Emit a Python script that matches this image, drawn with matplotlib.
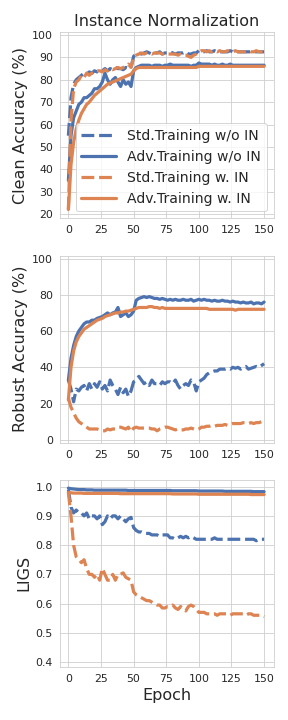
import matplotlib
matplotlib.use('Agg')
import matplotlib.pyplot as plt
import numpy as np
import seaborn as sns

sns.set_style('whitegrid')

epochs = np.arange(0, 151, 2)
labels = ['Std.Training w/o IN', 'Adv.Training w/o IN', 'Std.Training w. IN', 'Adv.Training w. IN']

# clean accuracy
clean_std_noin = [55, 72, 78, 80, 81, 82, 83, 82.5, 83.5, 83,
                  84, 83.5, 84.5, 84, 85, 84, 85, 84.5, 85.5, 85,
                  85, 84.5, 85.5, 85, 85.5, 90.5, 91.5, 92, 91.5, 92,
                  92.5, 92, 91.5, 92, 92, 92.5, 91.5, 92, 92, 92.5,
                  92, 91.5, 92, 92, 92, 92.5, 91.5, 91.5, 92, 92,
                  93, 92.5, 92.5, 93, 92.5, 92.5, 93, 92.5, 92.5, 92.5,
                  92.5, 92.5, 93, 92.5, 92.5, 92.5, 92.5, 92.5, 92.5, 92.5,
                  92.5, 92.5, 92.5, 92.5, 92.5, 92.5]
clean_adv_noin = [35, 55, 63, 66, 69, 70, 72, 72, 73, 74,
                  76, 76, 77, 79, 83, 80, 78, 80, 81, 79,
                  77, 80, 78, 79, 77, 84, 85.5, 86, 86.5, 86.5,
                  86.5, 86.5, 86, 86.5, 86.5, 86.5, 86, 86.5, 86.5, 87,
                  86.5, 86.5, 86.5, 86.5, 86.5, 86.5, 86.5, 86, 86.5, 86.5,
                  87.5, 87, 87, 87, 87, 86.5, 87, 86.5, 86.5, 87,
                  86.5, 86.5, 87, 86.5, 86.5, 86.5, 86.5, 86.5, 86.5, 86.5,
                  86.5, 86.5, 86.5, 86.5, 86.5, 86.5]
clean_std_in = [22, 62, 76, 79, 80, 82, 81, 83, 82, 83,
                83, 84, 84, 83.5, 84.5, 84, 85, 84.5, 85, 85.5,
                85, 85.5, 86, 87, 85.5, 90, 91, 91.5, 92, 91.5,
                92, 92, 91.5, 92, 92, 92, 91.5, 92, 91.5, 91.5,
                91.5, 91.5, 91, 91.5, 91, 91, 90.5, 90, 91, 91.5,
                92.5, 93, 93, 92.5, 93, 92.5, 93, 92.5, 93, 92.5,
                92.5, 93, 92.5, 92.5, 93, 92.5, 92.5, 92.5, 92.5, 93,
                92.5, 92.5, 93, 92.5, 92.5, 92.5]
clean_adv_in = [22, 42, 52, 58, 62, 65, 67, 69, 70, 71.5,
                73, 74, 75, 76, 77, 78, 78.5, 79, 79.5, 80,
                80.5, 81, 81.5, 82, 82.5, 84, 85, 85.5, 85.5, 85.5,
                85.5, 85.5, 85.5, 85.5, 85.5, 85.5, 85.5, 85.5, 85.5, 85.5,
                85.5, 85.5, 85.5, 85.5, 85.5, 85.5, 85.5, 85.5, 85.5, 85.5,
                86, 86, 86, 86, 86, 86, 86, 86, 86, 86,
                86, 86, 86, 86, 86, 86, 86, 86, 86, 86,
                86, 86, 86, 86, 86, 86]

# robust accuracy
rob_std_noin = [33, 28, 21, 28, 27, 29, 30, 27, 31, 28,
                31, 29, 32, 28, 30, 27, 33, 30, 28, 25,
                29, 26, 28, 24, 27, 32, 33, 35, 33, 31,
                32, 30, 33, 31, 31, 30, 32, 31, 32, 32,
                31, 33, 30, 28, 30, 31, 30, 33, 32, 27,
                32, 33, 34, 36, 37, 37.5, 38, 38, 39, 39,
                39, 39.5, 39, 40, 39.5, 40, 39, 40, 40.5, 39,
                39.5, 40, 40.5, 40, 41, 42]
rob_adv_noin = [33, 45, 52, 57, 60, 62, 64, 65, 65, 66,
                66, 67, 67.5, 68, 69, 70, 69, 70, 70.5, 73,
                68, 69, 70, 68, 69, 71, 77, 78, 78.5, 79,
                78.5, 79, 78.5, 78, 78, 77.5, 78, 77.5, 77, 77.5,
                77, 77.5, 77, 77, 77.5, 77, 77, 77.5, 76.5, 77,
                77.5, 77, 77.5, 77, 77, 76.5, 77, 76.5, 76.5, 77,
                76.5, 76.5, 76, 76.5, 76, 76, 75.5, 76, 75.5, 75.5,
                76, 75, 75.5, 75.5, 75, 76]
rob_std_in = [23, 18, 15, 12, 10, 9, 8, 7, 6, 6,
              6, 6, 5.5, 5, 5, 6, 5.5, 6, 6, 7,
              7, 6.5, 6, 7, 4.5, 6.5, 7, 6.5, 6.5, 6.5,
              6.5, 6.5, 6, 6, 5, 6, 6.5, 7, 7, 6.5,
              6, 5.5, 6, 5.5, 5.5, 6, 6, 6.5, 6, 5.5,
              6, 7, 7, 7.5, 7.5, 8, 7.5, 8, 8, 8,
              8.5, 8, 8.5, 9, 9, 9, 9, 9.5, 9.5, 9,
              9.5, 9, 9.5, 9.5, 10, 10]
rob_adv_in = [22, 40, 49, 54, 57, 59, 61, 62, 63, 64,
              65, 66, 66.5, 67, 68, 68.5, 69, 69.5, 70, 70,
              70.5, 70.5, 71, 71, 71.5, 72, 72.5, 73, 73, 73,
              73, 73.5, 73.5, 73, 73, 72.5, 73, 72.5, 72.5, 72.5,
              72.5, 72.5, 72.5, 72.5, 72.5, 72.5, 72.5, 72.5, 72.5, 72.5,
              72.5, 72.5, 72.5, 72.5, 72, 72, 72, 72, 72, 72,
              72, 72, 72, 72, 71.5, 72, 72, 72, 72, 72,
              72, 72, 72, 72, 72, 72]

# LIGS
ligs_std_noin = [0.99, 0.93, 0.91, 0.92, 0.91, 0.91, 0.90, 0.91, 0.89, 0.90,
                 0.90, 0.89, 0.90, 0.87, 0.88, 0.90, 0.89, 0.90, 0.90, 0.89,
                 0.90, 0.89, 0.88, 0.89, 0.895, 0.86, 0.85, 0.845, 0.845, 0.84,
                 0.84, 0.84, 0.835, 0.835, 0.835, 0.83, 0.835, 0.835, 0.835, 0.825,
                 0.825, 0.82, 0.825, 0.83, 0.825, 0.83, 0.825, 0.83, 0.825, 0.82,
                 0.82, 0.82, 0.82, 0.82, 0.82, 0.82, 0.825, 0.82, 0.82, 0.82,
                 0.82, 0.82, 0.82, 0.82, 0.82, 0.82, 0.82, 0.82, 0.82, 0.82,
                 0.82, 0.82, 0.815, 0.82, 0.82, 0.82]
ligs_adv_noin = [0.995, 0.993, 0.992, 0.991, 0.99, 0.99, 0.99, 0.989, 0.989, 0.989,
                 0.988, 0.988, 0.988, 0.988, 0.988, 0.988, 0.988, 0.988, 0.988, 0.988,
                 0.988, 0.988, 0.988, 0.987, 0.987, 0.987, 0.987, 0.987, 0.987, 0.987,
                 0.987, 0.987, 0.987, 0.987, 0.987, 0.987, 0.987, 0.987, 0.987, 0.987,
                 0.986, 0.986, 0.986, 0.986, 0.986, 0.986, 0.986, 0.986, 0.986, 0.986,
                 0.985, 0.985, 0.985, 0.985, 0.985, 0.985, 0.985, 0.985, 0.985, 0.985,
                 0.984, 0.984, 0.984, 0.984, 0.984, 0.984, 0.984, 0.984, 0.984, 0.984,
                 0.984, 0.983, 0.983, 0.983, 0.983, 0.983]
ligs_std_in = [0.98, 0.90, 0.80, 0.76, 0.75, 0.74, 0.75, 0.72, 0.70, 0.70,
               0.69, 0.70, 0.68, 0.72, 0.70, 0.68, 0.68, 0.70, 0.68, 0.70,
               0.70, 0.705, 0.69, 0.685, 0.68, 0.64, 0.63, 0.625, 0.62, 0.615,
               0.61, 0.61, 0.605, 0.60, 0.595, 0.595, 0.585, 0.585, 0.59, 0.59,
               0.595, 0.585, 0.58, 0.59, 0.58, 0.575, 0.59, 0.595, 0.59, 0.58,
               0.57, 0.57, 0.57, 0.565, 0.565, 0.565, 0.565, 0.56, 0.565, 0.565,
               0.565, 0.565, 0.56, 0.565, 0.565, 0.565, 0.565, 0.565, 0.56, 0.565,
               0.565, 0.56, 0.56, 0.56, 0.56, 0.555]
ligs_adv_in = [0.98, 0.979, 0.978, 0.978, 0.978, 0.978, 0.977, 0.977, 0.977, 0.977,
               0.977, 0.977, 0.977, 0.977, 0.977, 0.977, 0.977, 0.977, 0.977, 0.977,
               0.976, 0.976, 0.976, 0.976, 0.976, 0.976, 0.976, 0.976, 0.976, 0.976,
               0.976, 0.976, 0.976, 0.976, 0.976, 0.976, 0.976, 0.976, 0.976, 0.976,
               0.975, 0.975, 0.975, 0.975, 0.975, 0.975, 0.975, 0.975, 0.975, 0.975,
               0.974, 0.974, 0.974, 0.974, 0.974, 0.974, 0.974, 0.974, 0.974, 0.974,
               0.974, 0.974, 0.974, 0.974, 0.974, 0.974, 0.974, 0.974, 0.974, 0.974,
               0.973, 0.973, 0.973, 0.973, 0.973, 0.973]

blue = '#4C72B0'
orange = '#DD8452'
styles = [(blue, (0, (4, 1.5))), (blue, '-'), (orange, (0, (4, 1.5))), (orange, '-')]

panels = [
    ([clean_std_noin, clean_adv_noin, clean_std_in, clean_adv_in], 'Clean Accuracy (%)', (18, 101.5), [20, 30, 40, 50, 60, 70, 80, 90, 100]),
    ([rob_std_noin, rob_adv_noin, rob_std_in, rob_adv_in], 'Robust Accuracy (%)', (-1.5, 101.5), [0, 20, 40, 60, 80, 100]),
    ([ligs_std_noin, ligs_adv_noin, ligs_std_in, ligs_adv_in], 'LIGS', (0.384, 1.023), [0.4, 0.5, 0.6, 0.7, 0.8, 0.9, 1.0]),
]

fig, axes = plt.subplots(3, 1, figsize=(4, 10), dpi=72)
fig.subplots_adjust(left=0.208, right=0.951, top=0.956, bottom=0.074, hspace=0.2)

for ax, (series, ylabel, ylim, yticks) in zip(axes, panels):
    for vals, (c, ls), lab in zip(series, styles, labels):
        ax.plot(epochs, vals, color=c, linestyle=ls, lw=3.2, label=lab)
    ax.set_ylim(*ylim)
    ax.set_yticks(yticks)
    ax.set_xlim(-6.5, 157.5)
    ax.set_xticks([0, 25, 50, 75, 100, 125, 150])
    ax.set_ylabel(ylabel, fontsize=16)
    ax.tick_params(labelsize=11)

axes[0].set_title('Instance Normalization', fontsize=16)
axes[0].legend(loc='lower right', fontsize=14, handlelength=2.5)
axes[2].set_xlabel('Epoch', fontsize=16)

plt.savefig('out.png', dpi=72)
